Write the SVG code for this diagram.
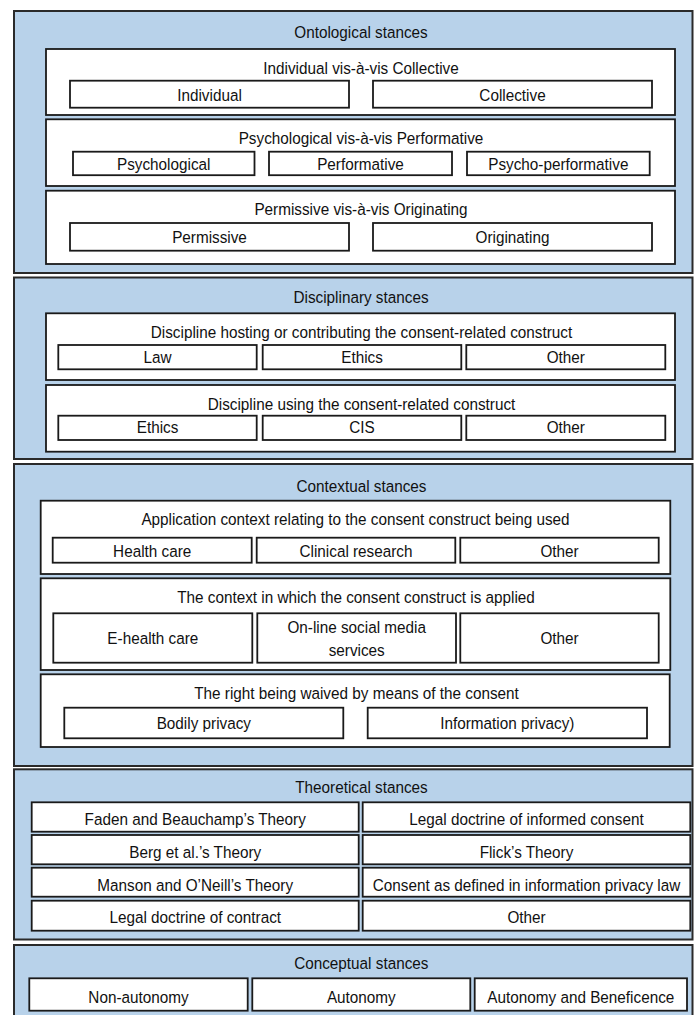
<svg xmlns="http://www.w3.org/2000/svg" width="694" height="1015" viewBox="0 0 694 1015">
  <style>
    .sec { fill: #b8d2ea; stroke: #2a2a2a; stroke-width: 2; }
    .box { fill: #ffffff; stroke: #1a1a1a; stroke-width: 1.8; }
    .sub { fill: #ffffff; stroke: #1a1a1a; stroke-width: 1.8; }
    text { font-family: "Liberation Sans", Arial, sans-serif; font-size: 17px; fill: #111111; text-anchor: middle; }
  </style>
  <rect width="694" height="1015" fill="#ffffff"/>

  <!-- Ontological stances -->
  <g id="ontological">
    <rect class="sec" x="14" y="11" width="678.5" height="262"/>
    <text transform="translate(361 37.5) scale(.9 1)">Ontological stances</text>
    <g id="individual-collective">
      <rect class="box" x="46" y="49" width="629" height="66"/>
      <text transform="translate(361 74) scale(.9 1)">Individual vis-à-vis Collective</text>
      <g id="individual"><rect class="sub" x="70" y="80.7" width="279" height="27"/><text transform="translate(209.5 100.7) scale(.9 1)">Individual</text></g>
      <g id="collective"><rect class="sub" x="373" y="80.7" width="279" height="27"/><text transform="translate(512.5 100.7) scale(.9 1)">Collective</text></g>
    </g>
    <g id="psychological-performative">
      <rect class="box" x="46" y="119.3" width="629" height="66.7"/>
      <text transform="translate(361 144.3) scale(.9 1)">Psychological vis-à-vis Performative</text>
      <g id="psychological"><rect class="sub" x="73" y="151.7" width="181.5" height="23.5"/><text transform="translate(163.7 170) scale(.9 1)">Psychological</text></g>
      <g id="performative"><rect class="sub" x="269" y="151.7" width="183" height="23.5"/><text transform="translate(360.5 170) scale(.9 1)">Performative</text></g>
      <g id="psycho-performative"><rect class="sub" x="467" y="151.7" width="182.7" height="23.5"/><text transform="translate(558.3 170) scale(.9 1)">Psycho-performative</text></g>
    </g>
    <g id="permissive-originating">
      <rect class="box" x="46" y="190.7" width="629" height="73.3"/>
      <text transform="translate(361 215) scale(.9 1)">Permissive vis-à-vis Originating</text>
      <g id="permissive"><rect class="sub" x="70" y="223" width="279" height="27.7"/><text transform="translate(209.5 243.3) scale(.9 1)">Permissive</text></g>
      <g id="originating"><rect class="sub" x="373" y="223" width="279" height="27.7"/><text transform="translate(512.5 243.3) scale(.9 1)">Originating</text></g>
    </g>
  </g>

  <!-- Disciplinary stances -->
  <g id="disciplinary">
    <rect class="sec" x="14" y="277.5" width="678.5" height="181.5"/>
    <text transform="translate(361 303.3) scale(.9 1)">Disciplinary stances</text>
    <g id="discipline-hosting">
      <rect class="box" x="46" y="313.3" width="629" height="66.7"/>
      <text transform="translate(361.5 338.3) scale(.9 1)">Discipline hosting or contributing the consent-related construct</text>
      <g id="host-law"><rect class="sub" x="58.3" y="345" width="198.4" height="24.3"/><text transform="translate(157.5 362.7) scale(.9 1)">Law</text></g>
      <g id="host-ethics"><rect class="sub" x="262.7" y="345" width="198.6" height="24.3"/><text transform="translate(362 362.7) scale(.9 1)">Ethics</text></g>
      <g id="host-other"><rect class="sub" x="466.3" y="345" width="199" height="24.3"/><text transform="translate(565.8 362.7) scale(.9 1)">Other</text></g>
    </g>
    <g id="discipline-using">
      <rect class="box" x="46" y="385" width="629" height="66.7"/>
      <text transform="translate(361.5 410) scale(.9 1)">Discipline using the consent-related construct</text>
      <g id="use-ethics"><rect class="sub" x="58.3" y="415.7" width="198.4" height="24.3"/><text transform="translate(157.5 433.3) scale(.9 1)">Ethics</text></g>
      <g id="use-cis"><rect class="sub" x="262.7" y="415.7" width="198.6" height="24.3"/><text transform="translate(362 433.3) scale(.9 1)">CIS</text></g>
      <g id="use-other"><rect class="sub" x="466.3" y="415.7" width="199" height="24.3"/><text transform="translate(565.8 433.3) scale(.9 1)">Other</text></g>
    </g>
  </g>

  <!-- Contextual stances -->
  <g id="contextual">
    <rect class="sec" x="14" y="464" width="678.5" height="302"/>
    <text transform="translate(361.5 491.7) scale(.9 1)">Contextual stances</text>
    <g id="application-context">
      <rect class="box" x="40.7" y="500.7" width="629.6" height="73.3"/>
      <text transform="translate(355.5 525) scale(.9 1)">Application context relating to the consent construct being used</text>
      <g id="app-health"><rect class="sub" x="52.7" y="537.7" width="199" height="25"/><text transform="translate(152.2 556.7) scale(.9 1)">Health care</text></g>
      <g id="app-clinical"><rect class="sub" x="256.7" y="537.7" width="198.6" height="25"/><text transform="translate(356 556.7) scale(.9 1)">Clinical research</text></g>
      <g id="app-other"><rect class="sub" x="460.3" y="537.7" width="198.4" height="25"/><text transform="translate(559.5 556.7) scale(.9 1)">Other</text></g>
    </g>
    <g id="applied-context">
      <rect class="box" x="40.7" y="578.3" width="629.6" height="91.7"/>
      <text transform="translate(356 603.3) scale(.9 1)">The context in which the consent construct is applied</text>
      <g id="ctx-ehealth"><rect class="sub" x="53.3" y="613.3" width="199" height="49.4"/><text transform="translate(152.8 644.3) scale(.9 1)">E-health care</text></g>
      <g id="ctx-social"><rect class="sub" x="257.3" y="613.3" width="198.7" height="49.4"/><text transform="translate(356.7 632.5) scale(.9 1)">On-line social media</text><text transform="translate(356.7 656) scale(.9 1)">services</text></g>
      <g id="ctx-other"><rect class="sub" x="460.3" y="613.3" width="198.4" height="49.4"/><text transform="translate(559.5 644.3) scale(.9 1)">Other</text></g>
    </g>
    <g id="right-waived">
      <rect class="box" x="40.7" y="674.3" width="629" height="72.7"/>
      <text transform="translate(356.5 699.3) scale(.9 1)">The right being waived by means of the consent</text>
      <g id="bodily-privacy"><rect class="sub" x="64.3" y="707.7" width="279" height="30.6"/><text transform="translate(203.8 729.3) scale(.9 1)">Bodily privacy</text></g>
      <g id="information-privacy"><rect class="sub" x="367.7" y="707.7" width="279.3" height="30.6"/><text transform="translate(507.3 729.3) scale(.9 1)">Information privacy)</text></g>
    </g>
  </g>

  <!-- Theoretical stances -->
  <g id="theoretical">
    <rect class="sec" x="14" y="769.3" width="678.5" height="170.2"/>
    <text transform="translate(361.5 793.3) scale(.9 1)">Theoretical stances</text>
    <g id="faden-beauchamp"><rect class="sub" x="31.7" y="802.3" width="327" height="29.4"/><text transform="translate(195.2 825) scale(.9 1)">Faden and Beauchamp’s Theory</text></g>
    <g id="informed-consent"><rect class="sub" x="362.7" y="802.3" width="327.6" height="29.4"/><text transform="translate(526.5 825) scale(.9 1)">Legal doctrine of informed consent</text></g>
    <g id="berg"><rect class="sub" x="31.7" y="835" width="327" height="29.3"/><text transform="translate(195.2 858) scale(.9 1)">Berg et al.’s Theory</text></g>
    <g id="flick"><rect class="sub" x="362.7" y="835" width="327.6" height="29.3"/><text transform="translate(526.5 858) scale(.9 1)">Flick’s Theory</text></g>
    <g id="manson-oneill"><rect class="sub" x="31.7" y="867.7" width="327" height="29"/><text transform="translate(195.2 890.7) scale(.9 1)">Manson and O’Neill’s Theory</text></g>
    <g id="privacy-law"><rect class="sub" x="362.7" y="867.7" width="327.6" height="29"/><text transform="translate(526.5 890.7) scale(.9 1)">Consent as defined in information privacy law</text></g>
    <g id="contract"><rect class="sub" x="31.7" y="900.7" width="327" height="30"/><text transform="translate(195.2 922.7) scale(.9 1)">Legal doctrine of contract</text></g>
    <g id="theory-other"><rect class="sub" x="362.7" y="900.7" width="327.6" height="30"/><text transform="translate(526.5 922.7) scale(.9 1)">Other</text></g>
  </g>

  <!-- Conceptual stances -->
  <g id="conceptual">
    <rect class="sec" x="14" y="945" width="678.5" height="75"/>
    <text transform="translate(361.3 969.3) scale(.9 1)">Conceptual stances</text>
    <g id="non-autonomy"><rect class="sub" x="29.3" y="978.3" width="218.4" height="32.4"/><text transform="translate(138.5 1003.3) scale(.9 1)">Non-autonomy</text></g>
    <g id="autonomy"><rect class="sub" x="252.3" y="978.3" width="218" height="32.4"/><text transform="translate(361.3 1003.3) scale(.9 1)">Autonomy</text></g>
    <g id="autonomy-beneficence"><rect class="sub" x="474.7" y="978.3" width="212.3" height="32.4"/><text transform="translate(580.8 1003.3) scale(.9 1)">Autonomy and Beneficence</text></g>
  </g>
</svg>
